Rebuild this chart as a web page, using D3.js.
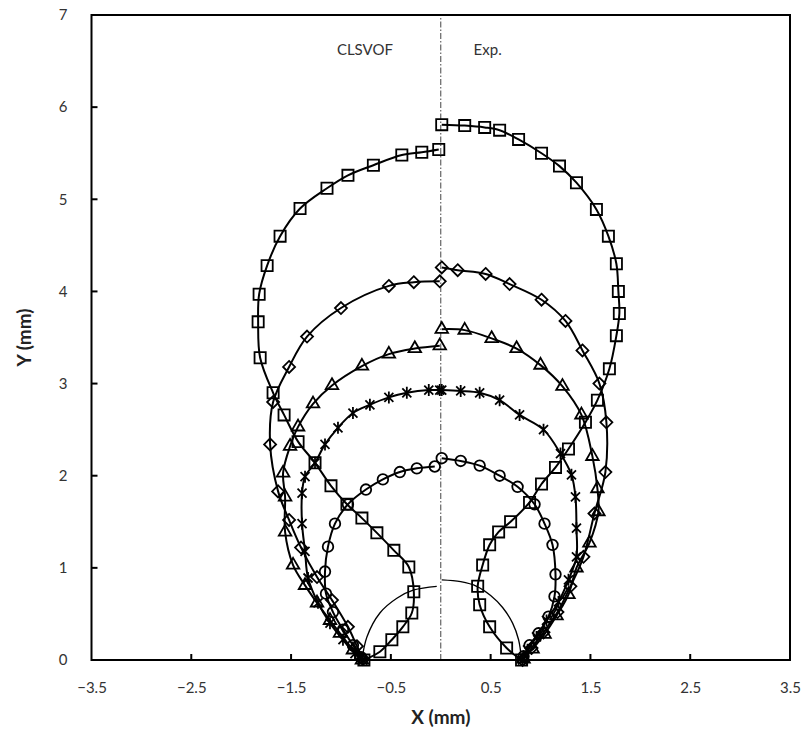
<!DOCTYPE html>
<html><head><meta charset="utf-8">
<script src="https://cdn.jsdelivr.net/npm/d3@7"></script>
<style>body{margin:0;background:#fff}svg{display:block}</style>
</head><body>
<svg id="c" width="804" height="735"></svg>
<script>
// ---- data (mm) ----
const xTicks = [-3.5,-2.5,-1.5,-0.5,0.5,1.5,2.5,3.5];
const yTicks = [0,1,2,3,4,5,6,7];
const sideLabels = ["CLSVOF","Exp."];

// CLSVOF (left half)
const squareL = [[-0.02,5.54],[-0.19,5.51],[-0.39,5.48],[-0.675,5.37],[-0.93,5.26],[-1.14,5.12],[-1.41,4.90],[-1.61,4.60],[-1.74,4.28],[-1.82,3.97],[-1.83,3.67],[-1.81,3.28],[-1.68,2.90],[-1.57,2.66],[-1.43,2.37],[-1.26,2.14],[-1.10,1.89],[-0.94,1.69],[-0.79,1.54],[-0.64,1.38],[-0.47,1.19],[-0.32,1.01],[-0.27,0.74],[-0.29,0.51],[-0.38,0.36],[-0.49,0.22],[-0.61,0.09],[-0.77,0.0]];
const diamondL = [[-0.01,4.11],[-0.27,4.10],[-0.52,4.06],[-1.00,3.82],[-1.34,3.51],[-1.52,3.18],[-1.68,2.80],[-1.71,2.34],[-1.63,1.83],[-1.52,1.52],[-1.40,1.22],[-1.24,0.90],[-1.09,0.65],[-0.93,0.36],[-0.84,0.15],[-0.78,0.01]];
const triangleL = [[-0.01,3.41],[-0.26,3.38],[-0.52,3.32],[-0.79,3.19],[-1.09,2.98],[-1.28,2.78],[-1.43,2.53],[-1.51,2.32],[-1.58,2.03],[-1.56,1.77],[-1.56,1.39],[-1.48,1.03],[-1.36,0.81],[-1.24,0.62],[-1.11,0.43],[-1.01,0.29],[-0.88,0.11],[-0.79,0.0]];
const starL = [[-0.01,2.93],[-0.12,2.93],[-0.34,2.90],[-0.52,2.85],[-0.71,2.77],[-0.88,2.68],[-1.03,2.52],[-1.16,2.34],[-1.26,2.14],[-1.36,1.99],[-1.39,1.81],[-1.39,1.48],[-1.36,1.18],[-1.33,0.89],[-1.23,0.62],[-1.11,0.40],[-0.98,0.22],[-0.86,0.07],[-0.78,0.0]];
const circleL = [[-0.06,2.10],[-0.24,2.08],[-0.41,2.04],[-0.58,1.96],[-0.75,1.85],[-0.93,1.69],[-1.06,1.48],[-1.13,1.23],[-1.16,0.96],[-1.15,0.72],[-1.08,0.52],[-0.98,0.33],[-0.88,0.16],[-0.80,0.03]];
const plainL = [[-0.79,0.0],[-0.74,0.25],[-0.61,0.51],[-0.44,0.67],[-0.27,0.76],[-0.04,0.80]];

// Exp. (right half)
const squareR = [[0.01,5.81],[0.24,5.80],[0.44,5.78],[0.59,5.75],[0.78,5.65],[1.01,5.50],[1.19,5.36],[1.36,5.18],[1.56,4.89],[1.68,4.60],[1.76,4.30],[1.78,4.00],[1.79,3.76],[1.76,3.52],[1.69,3.16],[1.57,2.82],[1.45,2.58],[1.28,2.29],[1.15,2.09],[1.01,1.91],[0.89,1.71],[0.70,1.50],[0.58,1.39],[0.49,1.25],[0.42,1.03],[0.37,0.80],[0.39,0.60],[0.49,0.36],[0.66,0.13],[0.81,0.0]];
const diamondR = [[0.01,4.26],[0.17,4.23],[0.45,4.19],[0.69,4.08],[1.01,3.91],[1.25,3.68],[1.42,3.36],[1.59,3.00],[1.66,2.58],[1.65,2.04],[1.54,1.59],[1.43,1.12],[1.30,0.80],[1.17,0.52],[1.03,0.30],[0.91,0.13],[0.82,0.0]];
const triangleR = [[0.01,3.59],[0.24,3.58],[0.51,3.49],[0.76,3.38],[1.00,3.20],[1.22,2.97],[1.41,2.66],[1.52,2.21],[1.57,1.86],[1.58,1.61],[1.49,1.27],[1.36,1.00],[1.28,0.71],[1.16,0.48],[1.04,0.28],[0.92,0.12],[0.83,0.01]];
const starR = [[0.01,2.93],[0.20,2.92],[0.39,2.90],[0.59,2.82],[0.79,2.66],[1.03,2.50],[1.20,2.24],[1.31,2.01],[1.35,1.77],[1.36,1.43],[1.36,1.12],[1.28,0.87],[1.18,0.63],[1.06,0.43],[0.96,0.25],[0.87,0.11],[0.82,0.0]];
const circleR = [[0.01,2.19],[0.20,2.16],[0.39,2.11],[0.59,2.00],[0.77,1.88],[0.94,1.69],[1.04,1.48],[1.12,1.25],[1.15,0.93],[1.14,0.69],[1.08,0.47],[0.98,0.29],[0.89,0.16],[0.83,0.04]];
const plainR = [[0.01,0.87],[0.20,0.85],[0.36,0.80],[0.50,0.70],[0.62,0.57],[0.72,0.40],[0.78,0.22],[0.81,0.0]];

// ---- drawing ----
const svg = d3.select("#c");
const font = "Lato, 'Open Sans', sans-serif";
const x = d3.scaleLinear().domain([-3.5,3.5]).range([91.5,790]);
const y = d3.scaleLinear().domain([0,7]).range([660,15]);

// centre dash-dot line
svg.append("line").attr("x1",x(0)).attr("x2",x(0)).attr("y1",y(0)).attr("y2",y(7))
  .attr("stroke","#555").attr("stroke-width",1.1).attr("stroke-dasharray","6,2,1.5,2");

const line = d3.line().x(d=>x(d[0])).y(d=>y(d[1])).curve(d3.curveCatmullRom.alpha(0.5));

const diamondPath = "M0,-6L6,0L0,6L-6,0Z";
const starPath = "M-4.5,-4.5L4.5,4.5M-4.5,4.5L4.5,-4.5M0,-6L0,6";
const markers = {
  square: d3.symbol(d3.symbolSquare, 125)(),
  diamond: diamondPath,
  triangle: d3.symbol(d3.symbolTriangle, 68)(),
  star: starPath,
  circle: d3.symbol(d3.symbolCircle, 88)()
};

const series = [
  {d:squareL, m:"square"},{d:squareR, m:"square"},
  {d:diamondL, m:"diamond"},{d:diamondR, m:"diamond"},
  {d:triangleL, m:"triangle"},{d:triangleR, m:"triangle"},
  {d:starL, m:"star"},{d:starR, m:"star"},
  {d:circleL, m:"circle"},{d:circleR, m:"circle"},
  {d:plainL, m:null},{d:plainR, m:null}
];

series.forEach(s=>{
  svg.append("path").attr("d",line(s.d)).attr("fill","none").attr("stroke","#000")
    .attr("stroke-width", s.m ? 2 : 1.3);
  if(s.m){
    svg.append("g").selectAll("path").data(s.d).join("path")
      .attr("transform",d=>`translate(${x(d[0])},${y(d[1])})`)
      .attr("d",markers[s.m]).attr("fill","none").attr("stroke","#000").attr("stroke-width",1.8);
  }
});

// frame
svg.append("rect").attr("x",x(-3.5)).attr("y",y(7)).attr("width",x(3.5)-x(-3.5)).attr("height",y(0)-y(7))
  .attr("fill","none").attr("stroke","#000").attr("stroke-width",2);

// axes
const xAxis = d3.axisBottom(x).tickValues(xTicks).tickSize(0).tickPadding(22).tickFormat(d3.format(".1f"));
const gx = svg.append("g").attr("transform",`translate(0,${y(0)})`).call(xAxis);
gx.select(".domain").remove();
gx.selectAll("text").attr("font-family",font).attr("font-size",15).attr("fill","#333");
const yAxis = d3.axisLeft(y).tickValues(yTicks).tickSize(0).tickPadding(24).tickFormat(d3.format("d"));
const gy = svg.append("g").attr("transform",`translate(${x(-3.5)},0)`).call(yAxis);
gy.select(".domain").remove();
gy.selectAll("text").attr("font-family",font).attr("font-size",15).attr("fill","#333");

// inner tick marks
svg.append("g").selectAll("line").data(xTicks.filter(v=>v>-3.5&&v<3.5)).join("line")
  .attr("x1",d=>x(d)).attr("x2",d=>x(d)).attr("y1",y(0)).attr("y2",y(0)-6)
  .attr("stroke","#000").attr("stroke-width",2);
svg.append("g").selectAll("line").data(yTicks.filter(v=>v>0&&v<7)).join("line")
  .attr("x1",x(-3.5)).attr("x2",x(-3.5)+6).attr("y1",d=>y(d)).attr("y2",d=>y(d))
  .attr("stroke","#000").attr("stroke-width",2);

// titles
svg.append("text").attr("x",x(0)).attr("y",724).attr("text-anchor","middle")
  .attr("font-family",font).attr("font-weight","bold").attr("font-size",19).attr("fill","#222").text("X (mm)");
svg.append("text").attr("transform",`translate(31,${(y(0)+y(7))/2}) rotate(-90)`).attr("text-anchor","middle")
  .attr("font-family",font).attr("font-weight","bold").attr("font-size",19).attr("fill","#222").text("Y (mm)");

svg.append("text").attr("x",x(-0.76)).attr("y",55).attr("text-anchor","middle")
  .attr("font-family",font).attr("font-size",15).attr("fill","#333").text(sideLabels[0]);
svg.append("text").attr("x",x(0.47)).attr("y",55).attr("text-anchor","middle")
  .attr("font-family",font).attr("font-size",15).attr("fill","#333").text(sideLabels[1]);
</script>
</body></html>
